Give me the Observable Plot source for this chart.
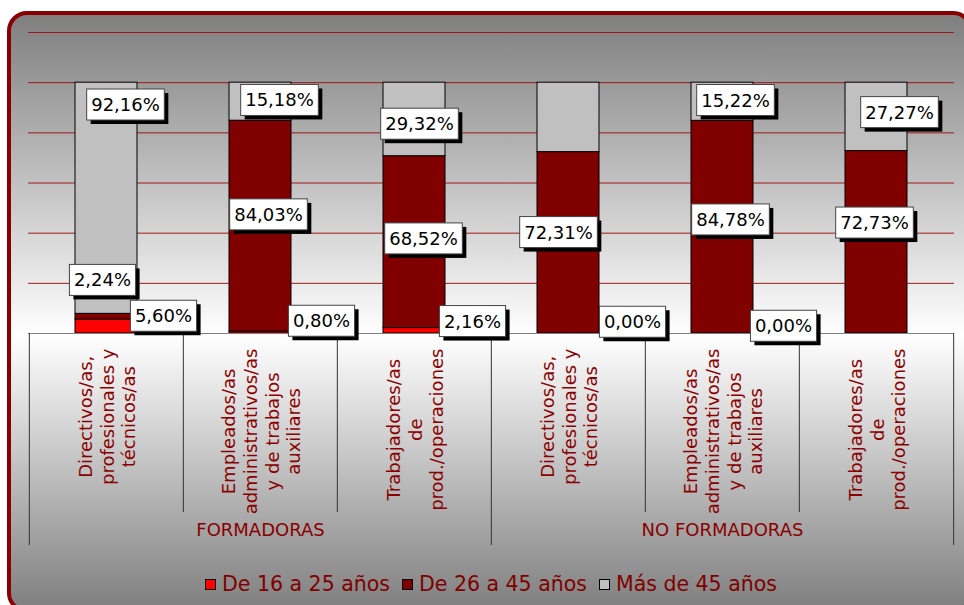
<!DOCTYPE html>
<html>
<head>
<meta charset="utf-8">
<script src="https://cdn.jsdelivr.net/npm/d3@7"></script>
<script src="https://cdn.jsdelivr.net/npm/@observablehq/plot@0.6"></script>
<style>
  html, body { margin: 0; padding: 0; background: #fff; width: 964px; height: 605px; overflow: hidden; position: relative; font-family: "DejaVu Sans", sans-serif; }
  #frame { position: absolute; left: 7px; top: 11px; width: 966px; height: 602px; box-sizing: border-box;
           border: 4px solid #8a0000; border-radius: 20px;
           background: linear-gradient(to bottom, #7f7f7f 0%, #ffffff 54%, #7f7f7f 100%); }
  #chart { position: absolute; left: 0; top: 0; }
  #legend { position: absolute; left: 205px; top: 572px; display: flex; align-items: center; font-size: 20.5px; color: #800000; white-space: nowrap; }
  #legend .item { display: flex; align-items: center; margin-right: 12px; }
  #legend .sw { width: 9px; height: 9px; border: 1.5px solid #000; margin-right: 6px; }
</style>
</head>
<body>
<div id="frame"></div>
<div id="chart"></div>
<div id="legend"></div>
<script>
// ---- data ----
const groups = ["FORMADORAS", "NO FORMADORAS"];
const occupations = [
  "Directivos/as,\nprofesionales y\ntécnicos/as",
  "Empleados/as\nadministrativos/as\ny de trabajos\nauxiliares",
  "Trabajadores/as\nde\nprod./operaciones"
];
const series = ["De 16 a 25 años", "De 26 a 45 años", "Más de 45 años"];
const colors = ["#ff0000", "#800000", "#c0c0c0"];
// percentages, order: FORMADORAS x3, NO FORMADORAS x3
const v16a25 = [5.60, 0.80, 2.16, 0.00, 0.00, 0.00];
const v26a45 = [2.24, 84.03, 68.52, 72.31, 84.78, 72.73];
const vMas45 = [92.16, 15.18, 29.32, 27.69, 15.22, 27.27];
const yTicks = [0.2, 0.4, 0.6, 0.8, 1.0, 1.2];
// labels not shown in the original: [category index, series index]
const hiddenLabels = [[3, 2], [5, 0]];

// ---- layout (pixel nudges of the value labels, relative to segment centre) ----
const labelNudge = [
  [[57, -10], [-4, -36], [19, -93]],
  [[61, -11], [8, -11], [19, -1]],
  [[58, -9], [9, -3], [5, 5]],
  [[64, -11], [-10, -10], [0, 0]],
  [[61, -7], [8, -7], [13, -1]],
  [[0, 0], [-2, -19], [23, -4]]
];

const W = 964, H = 605, mL = 28, mR = 10, mT = 32, mB = 272;
const step = (W - mL - mR) / 6;
const seriesValues = [v16a25, v26a45, vMas45];
const keys = groups.flatMap(g => occupations.map(o => g + "|" + o));

const table = [];
series.forEach((s, si) => keys.forEach((k, i) => table.push({key: k, series: s, value: seriesValues[si][i] / 100})));

const fmt = v => v.toFixed(2).replace(".", ",") + "%";
const labels = [];
keys.forEach((k, i) => {
  let cum = 0;
  series.forEach((s, si) => {
    const v = seriesValues[si][i] / 100;
    const hidden = hiddenLabels.some(([c, sIdx]) => c === i && sIdx === si);
    if (!hidden) labels.push({key: k, mid: cum + v / 2, text: fmt(seriesValues[si][i]), dx: labelNudge[i][si][0], dy: labelNudge[i][si][1]});
    cum += v;
  });
});

// measure category label lines to anchor the rotated blocks at their top
const ctx = document.createElement("canvas").getContext("2d");
ctx.font = "18px 'DejaVu Sans'";
const longest = t => d3.max(t.split("\n"), l => ctx.measureText(l).width);

const catMarks = keys.map(k => {
  const txt = k.split("|")[1];
  return Plot.text([k], {x: d => d, text: () => txt, frameAnchor: "bottom", rotate: -90,
    textAnchor: "middle", lineAnchor: "middle", lineHeight: 1.22, fontSize: 18, fill: "#8b0000",
    dy: 15 + longest(txt) / 2});
});

const sepMarks = [];
keys.forEach((k, i) => {
  const groupEdge = i % 3 === 0;
  sepMarks.push(Plot.ruleX([k], {x: d => d, dx: -step / 2, stroke: "#333", strokeWidth: 1,
    insetTop: 301, insetBottom: groupEdge ? -212 : -179}));
});
sepMarks.push(Plot.ruleX([keys[5]], {x: d => d, dx: step / 2, stroke: "#333", strokeWidth: 1, insetTop: 301, insetBottom: -212}));

const labelMarks = labels.map(l => Plot.text([l], {x: "key", y: "mid", text: "text", dx: l.dx, dy: l.dy,
  fontSize: 18, fill: "#000"}));

const plot = Plot.plot({
  width: W, height: H,
  marginLeft: mL, marginRight: mR, marginTop: mT, marginBottom: mB,
  style: {background: "transparent", fontFamily: "DejaVu Sans", fontSize: "18px", overflow: "visible"},
  x: {domain: keys, paddingInner: 0.6, paddingOuter: 0.3, axis: null},
  y: {domain: [0, 1.2], axis: null},
  color: {domain: series, range: colors},
  marks: [
    Plot.ruleY(yTicks, {stroke: "#9e1a1a", strokeWidth: 1}),
    Plot.barY(table, {x: "key", y: "value", fill: "series", stroke: "#000", strokeWidth: 1, order: series}),
    Plot.ruleY([0], {stroke: "#808080", strokeWidth: 1}),
    ...sepMarks,
    ...catMarks,
    Plot.text(groups, {x: g => g + "|" + occupations[1], text: d => d, frameAnchor: "bottom", dy: 202, fontSize: 18, fill: "#8b0000"}),
    ...labelMarks
  ]
});
document.getElementById("chart").appendChild(plot);

// white boxes with black drop shadow behind the value labels
const ns = "http://www.w3.org/2000/svg";
const labelTexts = new Set(labels.map(l => l.text));
d3.select(plot).selectAll("text").filter(function () { return labelTexts.has(this.textContent); }).each(function () {
  const bb = this.getBBox();
  const t = this.getAttribute("transform");
  const cy = bb.y + bb.height / 2;
  const padX = 4.5;
  const mk = (off, fill, stroke) => {
    const r = document.createElementNS(ns, "rect");
    r.setAttribute("x", bb.x - padX + off);
    r.setAttribute("y", cy - 15.5 + off);
    r.setAttribute("width", bb.width + 2 * padX);
    r.setAttribute("height", 31);
    r.setAttribute("fill", fill);
    if (stroke) { r.setAttribute("stroke", stroke); r.setAttribute("stroke-width", 1); }
    if (t) r.setAttribute("transform", t);
    return r;
  };
  this.parentNode.insertBefore(mk(4, "#000", null), this);
  this.parentNode.insertBefore(mk(0, "#fff", "#444"), this);
});

// legend
const legend = d3.select("#legend");
series.forEach((s, i) => {
  const it = legend.append("div").attr("class", "item");
  it.append("div").attr("class", "sw").style("background", colors[i]);
  it.append("span").text(s);
});
</script>
</body>
</html>
